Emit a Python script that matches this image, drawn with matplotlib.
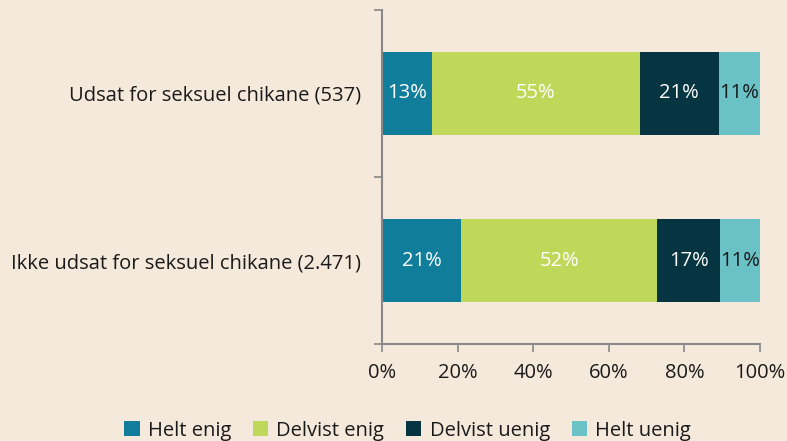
import matplotlib
matplotlib.use("Agg")
import matplotlib.pyplot as plt
import numpy as np

plt.rcParams['font.family'] = ['Open Sans', 'DejaVu Sans']

categories = ["Udsat for seksuel chikane (537)", "Ikke udsat for seksuel chikane (2.471)"]
series_names = ["Helt enig", "Delvist enig", "Delvist uenig", "Helt uenig"]
values = {
    "Helt enig": [13.3, 20.9],
    "Delvist enig": [54.9, 51.9],
    "Delvist uenig": [20.9, 16.6],
    "Helt uenig": [10.9, 10.6],
}
colors = ["#107E9B", "#BFD85A", "#063441", "#6AC2C7"]
text_colors = ["white", "white", "white", "#1a1a1a"]
xticks = [0, 20, 40, 60, 80, 100]

bg = "#F5E9DC"
FS = 14.5
fig = plt.figure(figsize=(7.87, 4.41), dpi=100, facecolor=bg)
ax = fig.add_axes([382/787, 1-344/441, 378/787, 334/441])
ax.set_facecolor(bg)

y = np.arange(len(categories))
left = np.zeros(len(categories))
for name, c, tc in zip(series_names, colors, text_colors):
    v = np.array(values[name], dtype=float)
    ax.barh(y, v, left=left, height=0.5, color=c, label=name)
    for yi, (l, w) in enumerate(zip(left, v)):
        ax.text(l + w/2, yi, f"{round(w):.0f}%", ha="center", va="center", color=tc, fontsize=FS)
    left += v

ax.set_ylim(len(categories) - 0.5, -0.5)
ax.set_xlim(0, 100)
ax.set_yticks([-0.5, 0.5, 1.5], minor=False)
ax.set_yticklabels([])
ax.set_yticks(y, minor=True)
ax.set_yticklabels(categories, minor=True, fontsize=FS, color="#1a1a1a")
ax.tick_params(axis="y", which="minor", length=0, pad=15)
ax.tick_params(axis="y", which="major", length=6, color="#888888", width=1.2)
ax.set_xticks(xticks)
ax.set_xticklabels([f"{t}%" for t in xticks], fontsize=FS, color="#1a1a1a")
ax.tick_params(axis="x", length=6, color="#888888", width=1.2, pad=8)
for s in ["top", "right"]:
    ax.spines[s].set_visible(False)
for s in ["left", "bottom"]:
    ax.spines[s].set_color("#888888")
    ax.spines[s].set_linewidth(1.5)

leg = fig.legend(loc="lower center", bbox_to_anchor=(0.518, -0.04), ncol=4, frameon=False,
                 fontsize=FS, handlelength=0.75, handleheight=0.75, handletextpad=0.4,
                 columnspacing=1.1)
for t in leg.get_texts():
    t.set_color("#1a1a1a")

fig.savefig("out.png", dpi=100, facecolor=bg)
